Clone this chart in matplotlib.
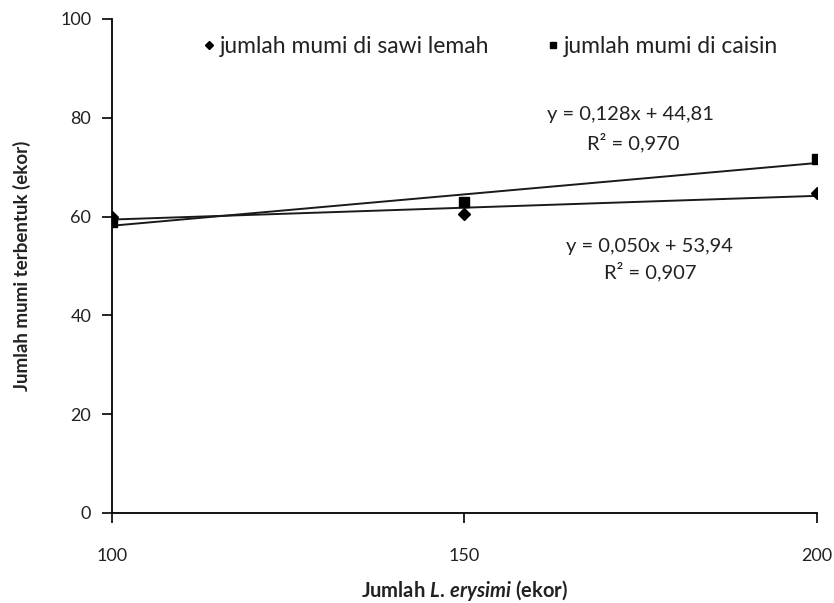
import numpy as np
import matplotlib.pyplot as plt

plt.rcParams['font.family'] = ['Lato', 'DejaVu Sans']
plt.rcParams['mathtext.fontset'] = 'custom'
plt.rcParams['mathtext.it'] = 'Lato:italic:bold'
plt.rcParams['mathtext.rm'] = 'Lato:bold'

# data
jumlah_aphid = [100, 150, 200]
mumi_sawi_lemah = [60.0, 60.6, 64.8]
mumi_caisin = [58.9, 63.0, 71.6]

label_sawi = 'jumlah mumi di sawi lemah'
label_caisin = 'jumlah mumi di caisin'

eq_caisin = ['y = 0,128x + 44,81', 'R² = 0,970']
eq_sawi = ['y = 0,050x + 53,94', 'R² = 0,907']

text_color = '#222222'


def trendline(x, y):
    """Straight line fit through the points, like the Excel trendline."""
    slope, intercept = np.polyfit(x, y, 1)
    return slope * np.array(x) + intercept


fig = plt.figure(figsize=(8.34, 6.03), dpi=100)
ax = fig.add_axes([0.1343, 0.1493, 0.8453, 0.8192])

# trendlines first, markers on top
for series in (mumi_sawi_lemah, mumi_caisin):
    ax.plot(jumlah_aphid, trendline(jumlah_aphid, series), color='#1a1a1a', linewidth=1.4)

ax.plot(jumlah_aphid, mumi_sawi_lemah, linestyle='none', marker='D',
        markersize=6.5, color='black', label=label_sawi)
ax.plot(jumlah_aphid, mumi_caisin, linestyle='none', marker='s',
        markersize=7, color='black', label=label_caisin)

ax.text(173.6, 80.6, eq_caisin[0], ha='center', va='center', fontsize=14.5, color=text_color)
ax.text(174.0, 74.9, eq_caisin[1], ha='center', va='center', fontsize=14.5, color=text_color)
ax.text(176.2, 54.0, eq_sawi[0], ha='center', va='center', fontsize=14.5, color=text_color)
ax.text(176.4, 48.8, eq_sawi[1], ha='center', va='center', fontsize=14.5, color=text_color)

ax.set_xlim(100, 200)
ax.set_ylim(0, 100)
ax.set_xticks([100, 150, 200])
ax.set_yticks([0, 20, 40, 60, 80, 100])
ax.tick_params(direction='out', length=7, width=1.2, labelsize=13, colors='black',
               labelcolor=text_color)
ax.tick_params(axis='x', pad=18)
ax.tick_params(axis='y', pad=8)

for side in ('top', 'right'):
    ax.spines[side].set_visible(False)
for side in ('left', 'bottom'):
    ax.spines[side].set_linewidth(1.3)

ax.set_xlabel('Jumlah $L.\\,erysimi$ (ekor)', fontsize=14.5, fontweight='bold',
              labelpad=10, color=text_color)
ax.set_ylabel('Jumlah mumi terbentuk (ekor)', fontsize=13.5, fontweight='bold',
              labelpad=21, color=text_color)

leg = ax.legend(loc='center left', bbox_to_anchor=(0.128, 0.944), ncol=2, frameon=False,
                fontsize=16.5, handlelength=0.6, handletextpad=0.15, columnspacing=2.5,
                markerscale=0.7, borderpad=0, borderaxespad=0)
for t in leg.get_texts():
    t.set_color(text_color)

fig.savefig('out.png', dpi=100)
